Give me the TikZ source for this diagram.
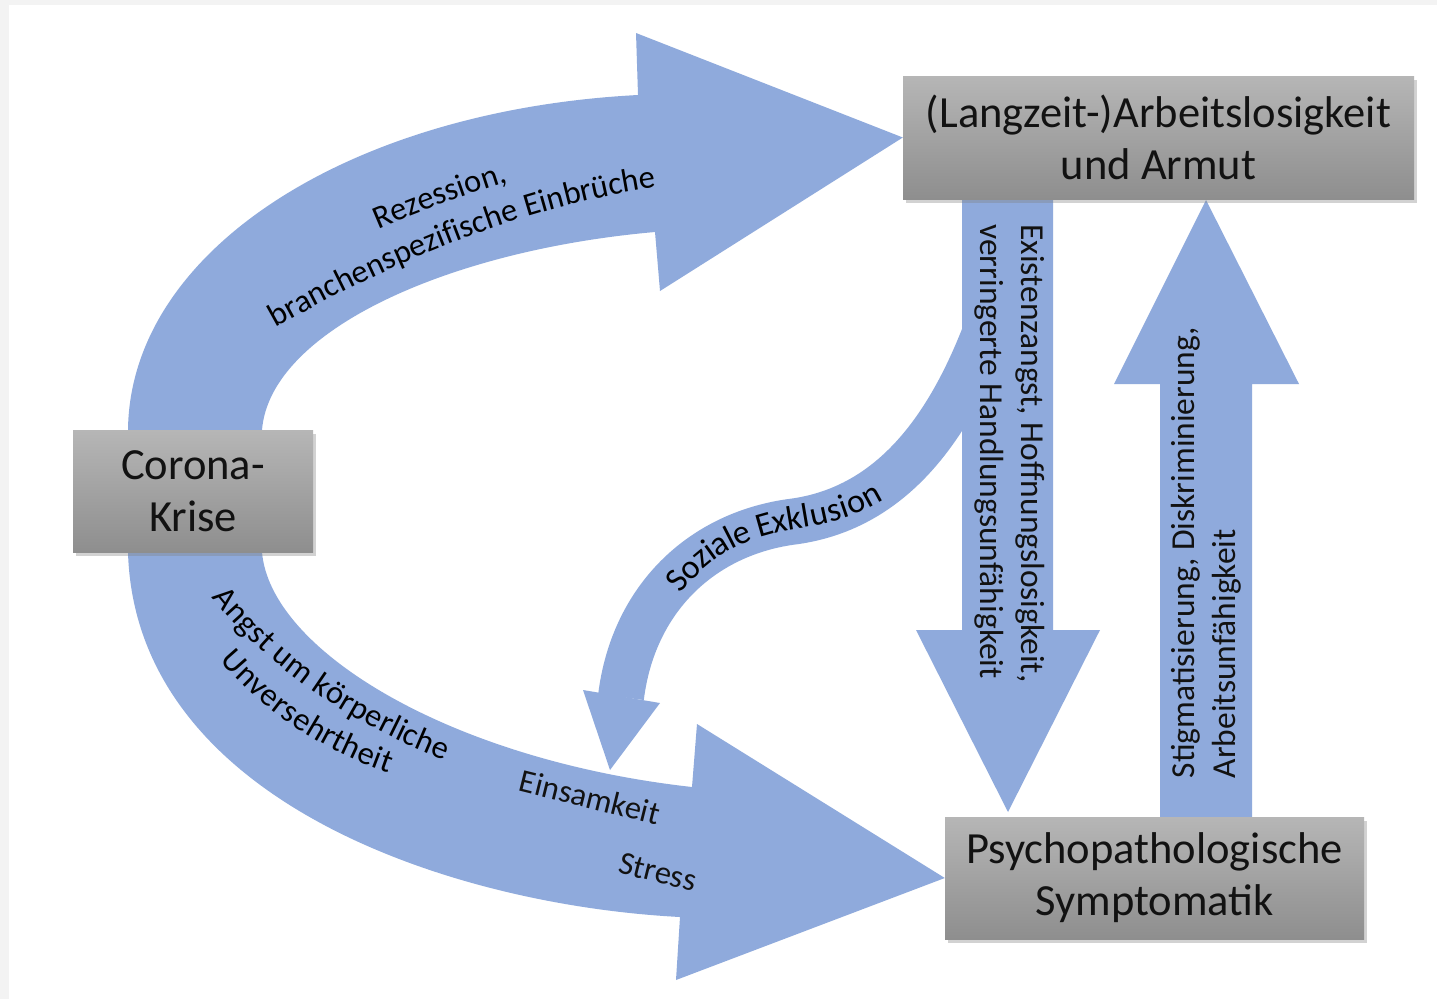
\documentclass[tikz,border=0pt]{standalone}
\usepackage{fontspec}
\setmainfont{Carlito}
\usetikzlibrary{decorations.text,shadows}
\definecolor{arrowblue}{HTML}{8FAADC}
\definecolor{boxtop}{RGB}{182,182,182}
\definecolor{boxbot}{RGB}{142,142,142}
\definecolor{pagegrey}{RGB}{243,243,243}
\definecolor{inkc}{RGB}{18,18,18}
\newcommand{\boxfont}{\fontsize{44.5}{52}\selectfont}
\newcommand{\lblfont}{\fontsize{32.5}{40}\selectfont}
\newcommand{\slblfont}{\fontsize{34}{40}\selectfont}
\newcommand{\vlblfont}{\fontsize{33.5}{41}\selectfont}
\pgfdeclarelayer{page}
\pgfdeclarelayer{arrows}
\pgfsetlayers{page,arrows,main}
\begin{document}
\begin{tikzpicture}[x=1pt,y=-1pt,
  box/.style={rectangle, inner sep=0pt, top color=boxtop, bottom color=boxbot,
    align=center, font=\boxfont, text=inkc,
    drop shadow={shadow xshift=3pt, shadow yshift=-4pt, opacity=0.35}},
  blockarrow/.style={fill=arrowblue, draw=none},
  lbl/.style={font=\lblfont, text=inkc, inner sep=0pt},
  vlbl/.style={font=\vlblfont, text=inkc, inner sep=0pt, align=left}]
\useasboundingbox (0,0) rectangle (1437,999);
\begin{pgfonlayer}{page}
  \fill[pagegrey] (0,0) rectangle (1437,999);
  \fill[white] (9,5) rectangle (1437,999);
\end{pgfonlayer}

% boxes
\node[box, minimum width=511pt, minimum height=123pt] (arb) at (1158.5,137.5) {(Langzeit-)Arbeitslosigkeit\\und Armut};
\node[box, minimum width=240pt, minimum height=122pt] (cor) at (193,491) {Corona-\\Krise};
\node[box, minimum width=419pt, minimum height=122pt] (psy) at (1154.5,878) {Psychopathologische\\Symptomatik};

\begin{pgfonlayer}{arrows}
  % Corona -> Arbeitslosigkeit
  \fill[blockarrow] (128,470) -- (128,430) .. controls (130,250) and (350,110) .. (638,95)
     -- (636,33) -- (arb.west) -- (660,291) -- (655,232)
     .. controls (450,250) and (270,330) .. (262,430) -- (262,470) -- cycle;
  % Corona -> Psychopathologische Symptomatik
  \fill[blockarrow] (128,520) -- (128,552) .. controls (135,800) and (450,905) .. (680,917)
     -- (676,980) -- (psy.west) -- (697,724) -- (692,787)
     .. controls (450,760) and (270,650) .. (262,552) -- (262,520) -- cycle;
  % Soziale Exklusion
  \draw[arrowblue, line width=46pt] (990,320) .. controls (950,430) and (890,510) .. (790,522)
     .. controls (700,535) and (633,600) .. (621,697);
  \fill[blockarrow] (583,690) -- (660,703) -- (610,770) -- cycle;
  % Arbeitslosigkeit -> Symptomatik
  \fill[blockarrow] (962,190) -- (1053,190) -- (1053,630) -- (1100,630) -- (1008,812)
     -- (916,630) -- (962,630) -- cycle;
  % Symptomatik -> Arbeitslosigkeit
  \fill[blockarrow] (1160,825) -- (1252,825) -- (1252,384) -- (1299,384) -- (1206,200)
     -- (1114,384) -- (1160,384) -- cycle;
\end{pgfonlayer}

% curved labels
\path[decorate, decoration={text along path, text align=center,
    text={|\lblfont|Rezession,}}]
  (370,233) .. controls (410,215) and (470,193) .. (517,179);
\path[decorate, decoration={text along path, text align=center,
    text={|\lblfont|branchenspezifische Einbrüche}}]
  (266,333) .. controls (380,268) and (520,205) .. (667,186);
\path[decorate, decoration={text along path, text align=center, raise=-10pt,
    text={|\lblfont|Angst um körperliche}}]
  (216,586) .. controls (260,645) and (340,710) .. (454,753);
\path[decorate, decoration={text along path, text align=center, raise=-10pt,
    text={|\lblfont|Unversehrtheit}}]
  (224,649) .. controls (260,695) and (320,740) .. (397,765);
\path[decorate, decoration={text along path, text align=left, raise=-9pt,
    text={|\slblfont|Soziale Exklusion}}]
  (674,588) .. controls (710,540) and (755,526) .. (800,519) .. controls (840,513) and (876,500) .. (905,472);

% straight labels
\node[lbl, rotate=-14] (l3) at (590,797) {Einsamkeit};
\node[lbl, rotate=-14] (l4) at (658,872) {Stress};
\node[vlbl, rotate=-90] (l5) at (1010,453.5) {Existenzangst, Hoffnungslosigkeit,\\verringerte Handlungsunfähigkeit};
\node[vlbl, rotate=90] (l6) at (1206,552.5) {Stigmatisierung, Diskriminierung,\\Arbeitsunfähigkeit};
\end{tikzpicture}
\end{document}
